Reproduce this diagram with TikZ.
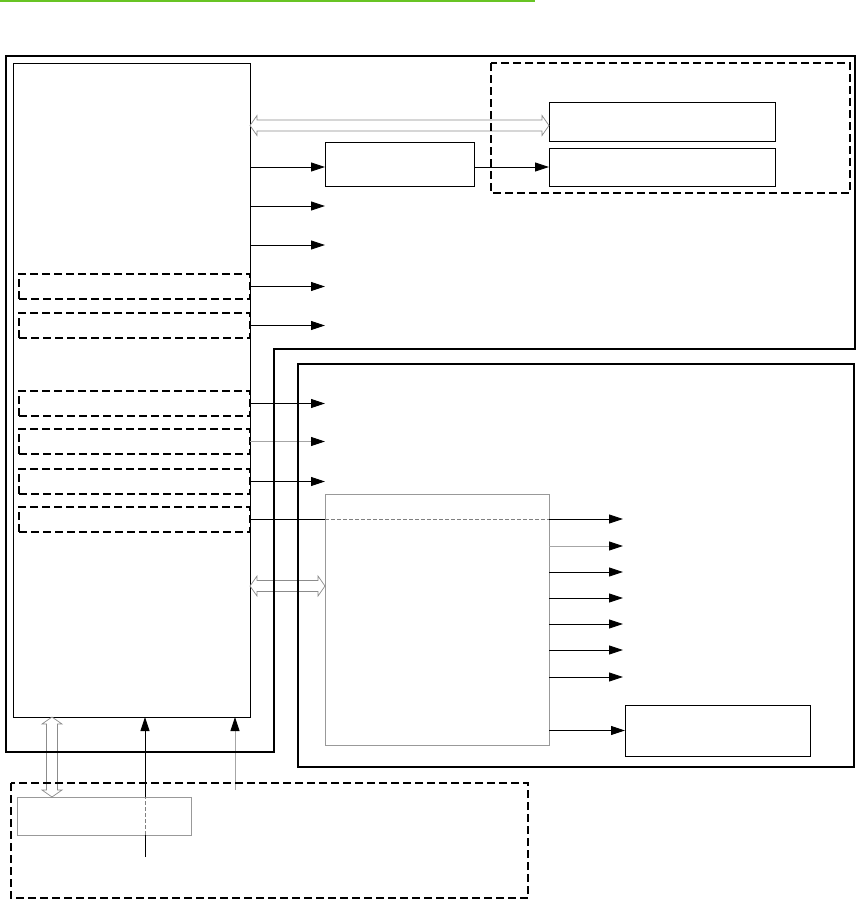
\documentclass[tikz,border=0pt]{standalone}
\usetikzlibrary{arrows.meta,calc}
\definecolor{rulegreen}{RGB}{104,196,36}
\tikzset{
  box/.style 2 args={minimum width=#1, minimum height=#2, anchor=north west, inner sep=0pt, outer sep=0pt},
  frame/.style={line width=2.6pt},
  thinbox/.style={draw, line width=0.9pt},
  graybox/.style={draw=black!40, line width=0.8pt},
  dbox/.style={draw, line width=1.7pt, dash pattern=on 8pt off 4pt},
  reg/.style={box={231pt}{25pt}, dbox},
  sig/.style={line width=0.9pt, -{Triangle[length=14pt,width=9pt,color=black]}},
  graysig/.style={sig, draw=black!35},
  inside/.style={draw=black!50, line width=0.8pt, dash pattern=on 4pt off 2pt},
  hbus/.style={draw=black!45, fill=white, line width=0.7pt, to path={let \p1=(\tikztostart), \p2=(\tikztotarget) in
    (\x1,\y1) -- (\x1+7pt,\y1+10pt) -- (\x1+7pt,\y1+5.5pt) -- (\x2-7pt,\y2+5.5pt) -- (\x2-7pt,\y2+10pt) -- (\x2,\y2)
    -- (\x2-7pt,\y2-10pt) -- (\x2-7pt,\y2-5.5pt) -- (\x1+7pt,\y1-5.5pt) -- (\x1+7pt,\y1-10pt) -- cycle}},
  vbus/.style={draw=black!45, fill=white, line width=0.7pt, to path={let \p1=(\tikztostart), \p2=(\tikztotarget) in
    (\x1,\y1) -- (\x1-10pt,\y1-7pt) -- (\x1-5.5pt,\y1-7pt) -- (\x2-5.5pt,\y2+7pt) -- (\x2-10pt,\y2+7pt) -- (\x2,\y2)
    -- (\x2+10pt,\y2+7pt) -- (\x2+5.5pt,\y2+7pt) -- (\x1+5.5pt,\y1-7pt) -- (\x1+10pt,\y1-7pt) -- cycle}}
}
\begin{document}
\begin{tikzpicture}[x=1pt,y=-1pt]
    \useasboundingbox (0,0) rectangle (860,903);
    % Green rule on top
    \draw[rulegreen, line width=2pt] (0,1) -- (535,1);
    % Controller with its register blocks
    \node[box={237pt}{654pt}, thinbox] (ctrl) at (13,63) {};
    \foreach \i/\y in {1/274,2/313,3/391,4/429,5/469,6/507}
        \node[reg] (r\i) at (19,\y) {};
    % Blocks on the right
    \node[box={149pt}{44pt}, thinbox] (drv) at (325,142) {};
    \node[box={226pt}{39pt}, thinbox] (mem1) at (549,102) {};
    \node[box={226pt}{38pt}, thinbox] (mem2) at (549,148) {};
    \node[box={224pt}{251pt}, graybox] (dec) at (325,494) {};
    \node[box={185pt}{51pt}, thinbox] (load) at (625,705) {};
    \node[box={174pt}{38pt}, graybox] (port) at (17,797) {};
    % Buses
    \coordinate (busT) at ([yshift=-4pt]mem1.west);
    \draw[hbus] (ctrl.east |- busT) to (busT);
    \coordinate (busD) at ([yshift=33.5pt]dec.west);
    \draw[hbus] (ctrl.east |- busD) to (busD);
    \coordinate (busP) at ([xshift=39pt]ctrl.south west);
    \draw[vbus] (busP) to (busP |- port.north);
    % Controller outputs
    \draw[sig] (ctrl.east |- mem2.west) -- (drv.west |- mem2.west);
    \draw[sig] (drv.east |- mem2.west) -- (mem2.west);
    \foreach \y in {206,245}
        \draw[sig] (ctrl.east |- 0,\y) -- (drv.west |- 0,\y);
    \foreach \i in {1,2,3,5}
        \draw[sig] (r\i.east) -- (r\i.east -| drv.west);
    \draw[graysig] (r4.east) -- (r4.east -| drv.west);
    \draw[line width=0.9pt] (r6.east) -- (r6.east -| dec.west);
    \draw[inside] (r6.east -| dec.west) -- (r6.east -| dec.east);
    % Decoder outputs
    \foreach \y/\c in {519/black,546/black!35,572/black,598/black,624/black,650/black,677/black}
        \draw[sig, draw=\c] (dec.east |- 0,\y) -- (623,\y);
    \draw[sig] (dec.east |- load.west) -- (load.west);
    % Inputs from below
    \coordinate (clk) at (145,857);
    \draw[line width=0.9pt] (clk) -- (clk |- port.south);
    \draw[inside] (clk |- port.south) -- (clk |- port.north);
    \draw[sig] (clk |- port.north) -- (clk |- ctrl.south);
    \coordinate (rst) at (235,790);
    \draw[graysig] (rst) -- (rst |- ctrl.south);
    % Frames
    \draw[frame] (6,56) -- (855,56) -- (855,349) -- (274,349) -- (274,752) -- (6,752) -- cycle;
    \draw[frame] (298,364) rectangle (854,767);
    \draw[dbox] (491,63) rectangle (850,193);
    \draw[dbox] (11,783) rectangle (528,898);
\end{tikzpicture}
\end{document}
